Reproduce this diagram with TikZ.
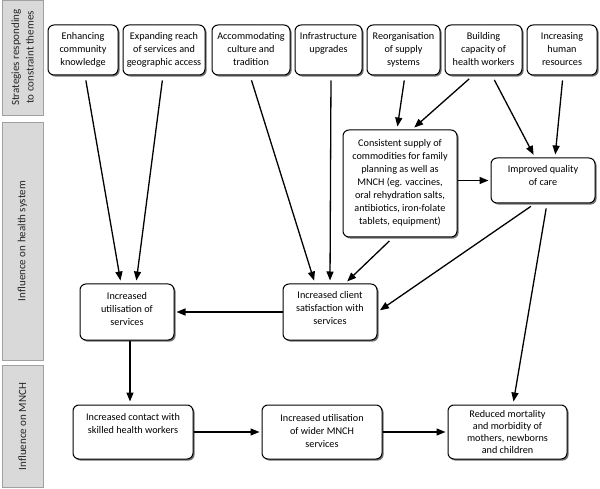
\documentclass[tikz,border=0pt]{standalone}
\usepackage{fontspec}
\setmainfont{Carlito}
\usetikzlibrary{shadows,arrows.meta}
\definecolor{bandfill}{HTML}{D9D9D9}
\definecolor{bandline}{HTML}{A0A0A0}
\tikzset{
  bx/.style={draw=black, line width=1pt, rounded corners=6pt, fill=white,
    drop shadow={shadow xshift=1.6pt, shadow yshift=-1.6pt, fill=black!65, opacity=0.85},
    inner sep=0pt},
  txt/.style={align=center, inner sep=0pt, font=\fontsize{10.2}{13}\selectfont},
  band/.style={draw=bandline, fill=bandfill, line width=0.8pt, inner sep=0pt,
    align=center, font=\fontsize{11}{14.5}\selectfont, text=black!85},
  arr/.style={line width=1.3pt, -{Triangle[length=9pt,width=7pt]}, shorten >=2pt},
  arrv/.style={arr, shorten <=5pt, shorten >=3pt}
}
\newcommand\mkbox[7]{%
  \node[bx, minimum width={(#4-#2)*1pt}, minimum height={(#5-#3)*1pt}] (#1) at ({(#2+#4)/2},{(#3+#5)/2}) {};
  \node[txt, anchor=north] (#1t) at ({(#2+#4)/2},#6) {#7};
}
\begin{document}
\begin{tikzpicture}[x=1pt,y=-1pt]
\useasboundingbox (0,0) rectangle (600,489);
% bands
\node[band, rotate=90, minimum width=115pt, minimum height=41pt] (s1) at (22.5,57.5) {Strategies responding\\to constraint themes};
\node[band, rotate=90, minimum width=238pt, minimum height=41pt] (s2) at (22.5,241) {Influence on health system};
\node[band, rotate=90, minimum width=122pt, minimum height=41pt] (s3) at (22.5,426.5) {Influence on MNCH};
% top boxes
\mkbox{b1}{48}{25}{118}{75}{32}{Enhancing\\community\\knowledge}
\mkbox{b2}{123}{25}{205}{75}{32}{Expanding reach\\of services and\\geographic access}
\mkbox{b3}{212}{25}{290}{75}{32}{Accommodating\\culture and\\tradition}
\mkbox{b4}{295}{25}{362}{75}{32}{Infrastructure\\upgrades}
\mkbox{b5}{367}{25}{440}{75}{32}{Reorganisation\\of supply\\systems}
\mkbox{b6}{445}{25}{522}{75}{32}{Building\\capacity of\\health workers}
\mkbox{b7}{527}{25}{597}{75}{32}{Increasing\\human\\resources}
% middle
\mkbox{cs}{343}{130}{457}{237}{139}{Consistent supply of\\commodities for family\\planning as well as\\MNCH (eg. vaccines,\\oral rehydration salts,\\antibiotics, iron-folate\\tablets, equipment)}
\mkbox{iq}{491}{158}{595}{203}{165.5}{Improved quality\\of care}
\mkbox{sat}{283}{284}{377}{340}{291.5}{Increased client\\satisfaction with\\services}
\mkbox{us}{80}{284}{174}{340}{292}{Increased\\utilisation of\\services}
% bottom
\mkbox{ct}{73}{405}{193}{459}{413}{Increased contact with\\skilled health workers}
\mkbox{wd}{262}{405}{382}{459}{414}{Increased utilisation\\of wider MNCH\\services}
\node[bx, minimum width=119pt, minimum height=54pt] (rm) at (507.5,432) {};
\node[txt, anchor=north, font=\fontsize{10.2}{12}\selectfont] (rmt) at (507.5,410) {Reduced mortality\\and morbidity of\\mothers, newborns\\and children};
% arrows
\draw[arrv] ([xshift=2pt]b1.south) -- ([xshift=-6pt]us.north);
\draw[arrv] ([xshift=-1pt]b2.south) -- ([xshift=9pt]us.north);
\draw[arrv] ([xshift=-1pt]b3.south) -- ([xshift=-15pt]sat.north);
\draw[arrv] ([xshift=2.5pt]b4.south) -- ([xshift=0pt]sat.north);
\draw[arrv] ([xshift=1.5pt]b5.south) -- ([xshift=-3pt]cs.north);
\draw[arrv] ([xshift=-10.5pt]b6.south) -- ([xshift=12pt]cs.north);
\draw[arrv] ([xshift=8.5pt]b6.south) -- ([xshift=-8pt]iq.north);
\draw[arrv] ([xshift=1pt]b7.south) -- ([xshift=12pt]iq.north);
\draw[arr] (cs.east |- iq.west) -- (iq.west);
\draw[arrv] ([xshift=-7pt]cs.south) -- ([xshift=15pt]sat.north);
\draw[arrv] ([xshift=-8pt]iq.south) -- (sat.east);
\draw[arrv] ([xshift=4pt]iq.south) -- ([xshift=5.5pt]rm.north);
\draw[arr] (sat.west) -- (us.east);
\draw[arrv, shorten <=0pt] ([xshift=3pt]us.south) -- ([xshift=-3pt]ct.north);
\draw[arr] (ct.east) -- (wd.west);
\draw[arr] (wd.east) -- (rm.west);
\end{tikzpicture}
\end{document}
